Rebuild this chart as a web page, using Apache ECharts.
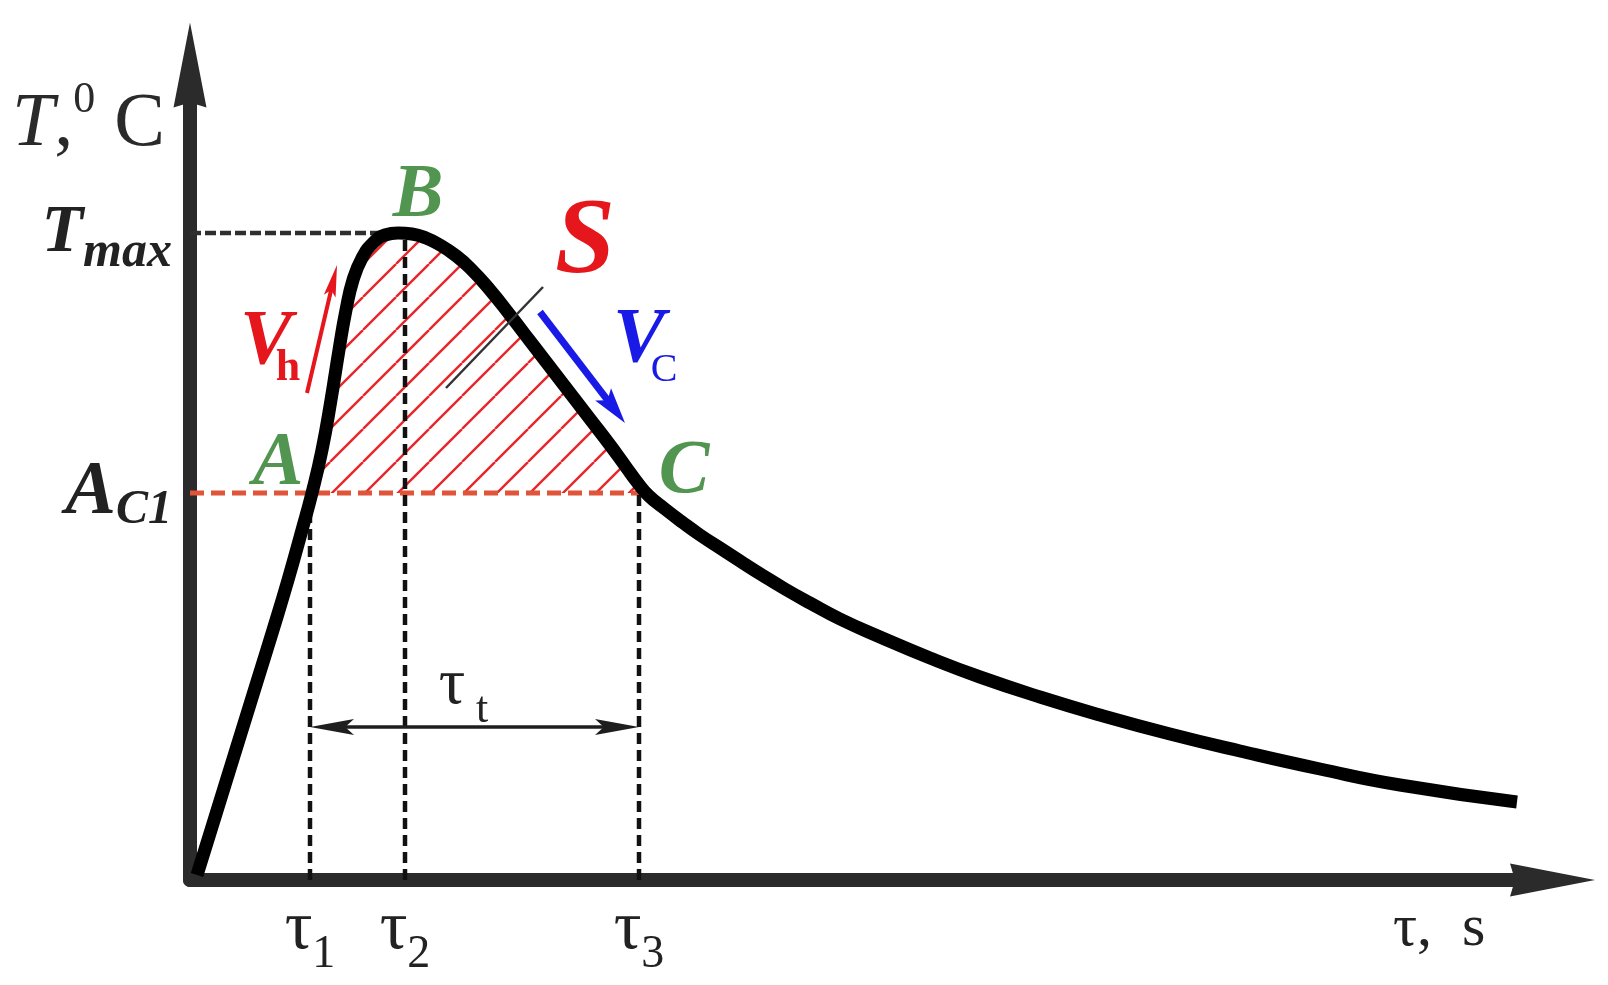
<!DOCTYPE html>
<html>
<head>
<meta charset="utf-8">
<script src="https://cdn.jsdelivr.net/npm/echarts@6/dist/echarts.min.js"></script>
<style>html,body{margin:0;padding:0;background:#fff}#c{width:1608px;height:985px}</style>
</head>
<body>
<div id="c"></div>
<script>
// ---- data (schematic units: tau in s, T in deg C) ----
const curveTau = [0.7, 2.1, 3.65, 5.2, 6.75, 8.3, 9.8, 11.2, 12.2, 13.2, 14.1, 14.9, 15.6, 16.3, 17.2, 18.3, 19.5, 20.8,
                  22.2, 23.6, 25.0, 26.5, 28.0, 30.0, 32.0, 34.0, 36.0, 38.0, 40.0, 42.0, 43.6, 44.7, 45.9,
                  47.5, 49.2, 51.0, 53.0, 55.0, 57.2, 59.5, 62.0, 65.0, 69.0, 74.0, 79.0, 85.0, 91.0, 98.0, 105.0, 113.0, 121.0, 132.7];
const curveT   = [0.5, 5.0, 10.0, 15.0, 20.0, 25.0, 30.0, 35.0, 38.7, 43.0, 48.0, 53.0, 57.0, 60.0, 62.2, 63.7, 64.5, 64.7,
                  64.6, 64.2, 63.5, 62.5, 61.2, 59.0, 56.5, 53.9, 51.3, 48.7, 46.1, 43.5, 41.3, 39.8, 38.4,
                  37.1, 35.8, 34.5, 33.2, 31.9, 30.5, 29.1, 27.7, 26.1, 24.3, 22.2, 20.3, 18.3, 16.5, 14.6, 12.9, 11.1, 9.5, 7.8];
const tauTicks = [12.0, 21.5, 44.9];
const tauTickLabels = ['1', '2', '3'];
const levelValues = [38.7, 64.7];          // A_C1, T_max
const pointNames = ['A', 'B', 'C'];
const pointTau = [12.2, 20.8, 45.5];
const pointT = [38.7, 64.7, 38.7];
const vhArrow = [11.7, 48.7, 14.7, 61.5];   // tail tau, tail T, tip tau, tip T
const vcArrow = [35.0, 56.8, 43.5, 45.7];
const sLeader = [35.3, 59.3, 25.6, 49.2];
const tauTArrow = [12.0, 15.3, 44.9, 15.3];
const axisMax = [136.25, 81.5];

// ---- chart ----
const FONT = '"Liberation Serif", "Times New Roman", serif';
const chart = echarts.init(document.getElementById('c'), null, {renderer: 'canvas'});
const curveData = curveTau.map((x, i) => [x, curveT[i]]);
const AC1 = levelValues[0], TMAX = levelValues[1];
const areaData = curveData.filter(p => p[0] >= pointTau[0] - 1e-9 && p[0] < pointTau[2])
  .concat([[pointTau[2], pointT[2]]]);
const ARROW = 'path://M16.5,0 L33,85 L16.5,80 L0,85 Z';

function hatchCanvas() {
  const s = 33, c = document.createElement('canvas');
  c.width = s; c.height = s;
  const g = c.getContext('2d');
  g.strokeStyle = '#e8262a'; g.lineWidth = 2.4;
  for (let k = -1; k <= 1; k++) { g.beginPath(); g.moveTo(k * s, s); g.lineTo(k * s + s, 0); g.stroke(); }
  return c;
}

const guides = [
  {name: 'Tmax level', data: [[0, TMAX], [pointTau[1], TMAX]], color: '#2e2e2e', width: 4.5, dash: [11, 4]},
  {name: 'AC1 level', data: [[0, AC1], [tauTicks[2], AC1]], color: '#e0553a', width: 5, dash: [14, 7]},
  {name: 'tau1 guide', data: [[tauTicks[0], 0], [tauTicks[0], AC1]], color: '#111', width: 4.5, dash: [11, 6]},
  {name: 'tau2 guide', data: [[tauTicks[1], 0], [tauTicks[1], TMAX]], color: '#111', width: 4.5, dash: [11, 6]},
  {name: 'tau3 guide', data: [[tauTicks[2], 0], [tauTicks[2], AC1]], color: '#111', width: 4.5, dash: [11, 6]}
];

const annotData = [vhArrow, vcArrow, sLeader, tauTArrow];
const annotStyle = [
  {color: '#e5161c', width: 4, headLen: 32, headHW: 6, heads: 'end',
   texts: [{t: 'V', dx: -41, dy: -50, font: 'italic bold 78px ' + FONT, fill: '#e5161c'},
           {t: 'h', dx: -19, dy: -24, font: 'bold 44px ' + FONT, fill: '#e5161c'}]},
  {color: '#1a1ae6', width: 7, headLen: 36, headHW: 10, heads: 'end',
   texts: [{t: 'V', dx: 99, dy: 29, font: 'italic bold 78px ' + FONT, fill: '#1a1ae6'},
           {t: 'C', dx: 124, dy: 58, font: '40px ' + FONT, fill: '#1a1ae6'}]},
  {color: '#333', width: 2.5, headLen: 0, headHW: 0, heads: 'none',
   texts: [{t: 'S', dx: 42, dy: -43, font: 'italic bold 108px ' + FONT, fill: '#e5161c'}]},
  {color: '#1e1e1e', width: 3.5, headLen: 44, headHW: 8, heads: 'both',
   texts: [{t: 'τ', dx: 142, dy: -41, font: '66px ' + FONT, fill: '#222'},
           {t: 't', dx: 172, dy: -17, font: '44px ' + FONT, fill: '#222'}]}
];

function head(tip, from, len, hw, color) {
  const dx = tip[0] - from[0], dy = tip[1] - from[1];
  const L = Math.hypot(dx, dy), ux = dx / L, uy = dy / L, px = -uy, py = ux;
  const bx = tip[0] - ux * len, by = tip[1] - uy * len;
  const nx = tip[0] - ux * len * 0.8, ny = tip[1] - uy * len * 0.8;
  return {type: 'polygon', shape: {points: [tip, [bx + px * hw, by + py * hw], [nx, ny], [bx - px * hw, by - py * hw]]},
          style: {fill: color}};
}

function renderAnnot(params, api) {
  const st = annotStyle[params.dataIndex];
  const p0 = api.coord([api.value(0), api.value(1)]);
  const p1 = api.coord([api.value(2), api.value(3)]);
  const children = [];
  let a = p0.slice(), b = p1.slice();
  const L = Math.hypot(p1[0] - p0[0], p1[1] - p0[1]);
  const ux = (p1[0] - p0[0]) / L, uy = (p1[1] - p0[1]) / L;
  if (st.heads === 'end' || st.heads === 'both') b = [p1[0] - ux * st.headLen * 0.7, p1[1] - uy * st.headLen * 0.7];
  if (st.heads === 'both') a = [p0[0] + ux * st.headLen * 0.7, p0[1] + uy * st.headLen * 0.7];
  children.push({type: 'line', shape: {x1: a[0], y1: a[1], x2: b[0], y2: b[1]},
                 style: {stroke: st.color, lineWidth: st.width}});
  if (st.heads === 'end' || st.heads === 'both') children.push(head(p1, p0, st.headLen, st.headHW, st.color));
  if (st.heads === 'both') children.push(head(p0, p1, st.headLen, st.headHW, st.color));
  st.texts.forEach(t => children.push({type: 'text', x: p0[0] + t.dx, y: p0[1] + t.dy,
    style: {text: t.t, font: t.font, fill: t.fill, align: 'center', verticalAlign: 'middle'}}));
  return {type: 'group', children: children};
}

const labelOffsets = [[-34, -29], [20, -37], [39, -21]];

const option = {
  animation: false,
  backgroundColor: '#ffffff',
  grid: {left: 190, right: 55.5, top: 65, bottom: 105, containLabel: false},
  xAxis: {
    type: 'value', min: 0, max: axisMax[0],
    name: '{a|τ,\u2002s}', nameLocation: 'end', nameGap: -159.5,
    nameTextStyle: {align: 'left', verticalAlign: 'top',
      rich: {a: {fontFamily: FONT, fontSize: 60, color: '#222', lineHeight: 98}}},
    axisLine: {show: true, onZero: false, symbol: ['none', ARROW], symbolSize: [33, 85],
               lineStyle: {color: '#2b2b2b', width: 14}},
    axisTick: {show: false}, splitLine: {show: false},
    axisLabel: {
      customValues: tauTicks, margin: 15,
      formatter: v => {
        let i = 0, d = Infinity;
        tauTicks.forEach((t, k) => { if (Math.abs(t - v) < d) { d = Math.abs(t - v); i = k; } });
        return '{t|τ}{s|' + tauTickLabels[i] + '}';
      },
      rich: {
        t: {fontFamily: FONT, fontSize: 69, color: '#222', lineHeight: 83, verticalAlign: 'top'},
        s: {fontFamily: FONT, fontSize: 46, color: '#222', lineHeight: 20, verticalAlign: 'bottom'}
      }
    }
  },
  yAxis: {
    type: 'value', min: 0, max: axisMax[1],
    name: '{i|T}{n|,}{p|0}{n| C}', nameLocation: 'end', nameGap: -60,
    nameTextStyle: {align: 'right', verticalAlign: 'middle', padding: [0, 25, 0, 0],
      rich: {
        i: {fontFamily: FONT, fontStyle: 'italic', fontSize: 76, color: '#2a2a2a', lineHeight: 80},
        n: {fontFamily: FONT, fontSize: 76, color: '#2a2a2a', lineHeight: 80},
        p: {fontFamily: FONT, fontSize: 44, color: '#2a2a2a', lineHeight: 94, verticalAlign: 'top'}
      }},
    axisLine: {show: true, onZero: false, symbol: ['none', ARROW], symbolSize: [33, 86],
               lineStyle: {color: '#2b2b2b', width: 14}},
    axisTick: {show: false}, splitLine: {show: false},
    axisLabel: {
      customValues: levelValues, margin: 18,
      formatter: v => Math.abs(v - TMAX) < Math.abs(v - AC1) ? '{T|T}{m|max}' : '{A|A}{c|C1}',
      rich: {
        T: {fontFamily: FONT, fontStyle: 'italic', fontWeight: 'bold', fontSize: 68, color: '#222', lineHeight: 90},
        m: {fontFamily: FONT, fontStyle: 'italic', fontWeight: 'bold', fontSize: 50, color: '#222', lineHeight: 20, verticalAlign: 'bottom'},
        A: {fontFamily: FONT, fontStyle: 'italic', fontWeight: 'bold', fontSize: 76, color: '#222', lineHeight: 84},
        c: {fontFamily: FONT, fontStyle: 'italic', fontWeight: 'bold', fontSize: 48, color: '#222', lineHeight: 20, verticalAlign: 'bottom'}
      }
    }
  },
  series: [
    {
      name: 'S', type: 'line', data: areaData, smooth: 0.5, symbol: 'none', z: 1,
      lineStyle: {width: 0},
      areaStyle: {origin: AC1, color: {image: hatchCanvas(), repeat: 'repeat'}, opacity: 1},
      silent: true
    },
    ...guides.map(g => ({
      name: g.name, type: 'line', data: g.data, symbol: 'none', z: 2, silent: true,
      lineStyle: {color: g.color, width: g.width, type: g.dash, cap: 'butt'}
    })),
    {
      name: 'T(τ)', type: 'line', data: curveData, smooth: 0.5, symbol: 'none', z: 4, silent: true,
      lineStyle: {color: '#000', width: 13, cap: 'butt', join: 'round'}
    },
    {
      name: 'points', type: 'scatter', z: 5, silent: true, symbolSize: 1,
      itemStyle: {color: 'rgba(0,0,0,0)'},
      data: pointNames.map((n, i) => ({name: n, value: [pointTau[i], pointT[i]],
        label: {show: true, position: 'inside', offset: labelOffsets[i], formatter: n,
                fontFamily: FONT, fontStyle: 'italic', fontWeight: 'bold', fontSize: 76, color: '#267a26'}}))
    },
    {
      name: 'annotations', type: 'custom', z: 6, silent: true,
      data: annotData, renderItem: renderAnnot,
      encode: {x: [0, 2], y: [1, 3]}
    }
  ]
};
chart.setOption(option);
</script>
</body>
</html>
